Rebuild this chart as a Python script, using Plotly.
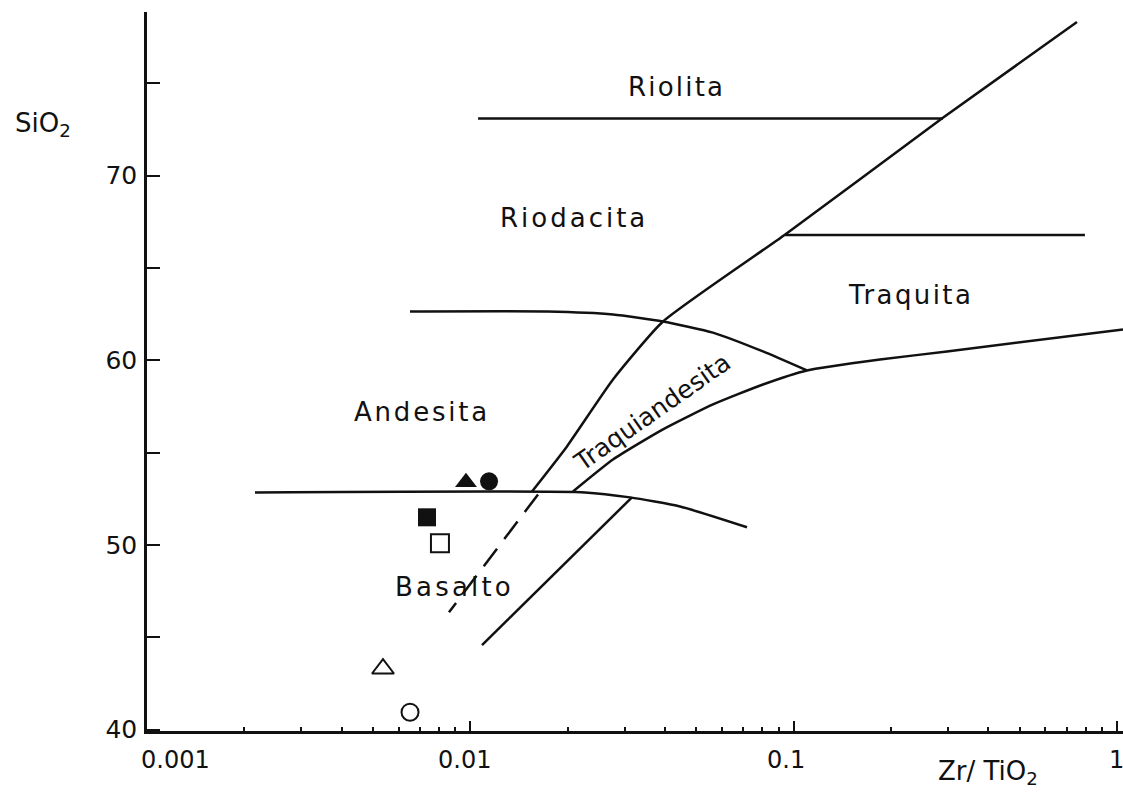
import math
import plotly.graph_objects as go

# ---------------- data ----------------
# boundary lines of the Zr/TiO2 - SiO2 classification diagram
diag_x = [0.01552, 0.01991, 0.02763, 0.03945, 0.094, 0.2897, 0.7527]
diag_y = [52.90, 55.34, 58.96, 62.10, 66.80, 73.13, 78.32]

riolita_x = [0.01057, 0.2897]
riolita_y = [73.1, 73.1]

traquita_top_x = [0.094, 0.7966]
traquita_top_y = [66.78, 66.78]

andesita_top_x = [0.00651, 0.01727, 0.02763, 0.03945, 0.05631, 0.0804, 0.110]
andesita_top_y = [62.64, 62.64, 62.48, 62.10, 61.50, 60.48, 59.45]

traqand_low_x = [0.02078, 0.02763, 0.03945, 0.05631, 0.0804, 0.110, 0.185, 0.2981, 1.045]
traqand_low_y = [52.90, 54.63, 56.26, 57.61, 58.69, 59.45, 60.04, 60.48, 61.67]

basalto_top_x = [0.002158, 0.02263, 0.03119, 0.04453, 0.07177]
basalto_top_y = [52.85, 52.85, 52.58, 52.09, 50.96]

dashed_x = [0.01620, 0.008592]
dashed_y = [52.74, 46.36]

lower_x = [0.03163, 0.01087]
lower_y = [52.58, 44.58]

# samples
filled_symbols = ["triangle-up", "circle", "square"]
filled_x = [0.009698, 0.01143, 0.007347]
filled_y = [53.4, 53.45, 51.50]

open_symbols = ["square-open", "triangle-up-open", "circle-open"]
open_x = [0.008057, 0.00537, 0.00651]
open_y = [50.09, 43.3, 40.95]

# field labels
field_names = ["Riolita", "Riodacita", "Traquita", "Andesita", "Basalto", "Traquiandesita"]
field_x = [0.04329, 0.02093, 0.2307, 0.00709, 0.008968, 0.03648]
field_y = [74.81, 67.72, 63.56, 57.18, 47.71, 57.18]
field_angle = [0, 0, 0, 0, 0, -35]
field_spacing = [2.2, 3.0, 2.4, 2.8, 3.2, 0]

# axis ticks
x_tick_vals = [0.001, 0.01, 0.1, 1]
x_tick_text = ["0.001", "0.01", "0.1", "1"]
x_label_shift = [28, -6, -8, 0]
x_minor_vals = [m * d for d in (0.001, 0.01, 0.1) for m in range(2, 10)]
y_tick_vals = [40, 50, 60, 70]
y_tick_text = ["40", "50", "60", "70"]

FONT = "DejaVu Sans"
INK = "#111111"

fig = go.Figure()

line_sets = [
    (diag_x, diag_y, "solid", "spline"),
    (riolita_x, riolita_y, "solid", "linear"),
    (traquita_top_x, traquita_top_y, "solid", "linear"),
    (andesita_top_x, andesita_top_y, "solid", "spline"),
    (traqand_low_x, traqand_low_y, "solid", "spline"),
    (basalto_top_x, basalto_top_y, "solid", "spline"),
    (dashed_x, dashed_y, "22px,12px", "linear"),
    (lower_x, lower_y, "solid", "linear"),
]
for xs, ys, dash, shape in line_sets:
    fig.add_trace(go.Scatter(
        x=xs, y=ys, mode="lines",
        line=dict(color=INK, width=2.5, dash=dash, shape=shape, smoothing=0.5),
        hoverinfo="skip", showlegend=False, cliponaxis=False))

fig.add_trace(go.Scatter(
    x=filled_x, y=filled_y, mode="markers", showlegend=False,
    marker=dict(symbol=filled_symbols, size=[19, 18, 18], color=INK, opacity=1,
                line=dict(width=0))))
fig.add_trace(go.Scatter(
    x=open_x, y=open_y, mode="markers", showlegend=False,
    marker=dict(symbol=open_symbols, size=[18, 19, 17], color=INK, opacity=1,
                line=dict(width=2, color=INK))))

annotations = []
for name, x, y, ang, sp in zip(field_names, field_x, field_y, field_angle, field_spacing):
    txt = f'<span style="letter-spacing:{sp}px">{name}</span>' if sp else name
    annotations.append(dict(x=math.log10(x), y=y, xref="x", yref="y", text=txt, showarrow=False,
                            textangle=ang, font=dict(family=FONT, size=26 if sp else 25, color=INK),
                            xanchor="center", yanchor="middle"))
for v, t, s in zip(x_tick_vals, x_tick_text, x_label_shift):
    annotations.append(dict(x=math.log10(v), y=0, xref="x", yref="paper", text=t, showarrow=False,
                            xshift=s, yshift=-29, font=dict(family=FONT, size=24, color=INK),
                            xanchor="center", yanchor="middle"))
annotations.append(dict(x=-0.137, y=0.843, xref="paper", yref="paper", text="SiO<sub>2</sub>",
                        showarrow=False, xanchor="left", yanchor="middle",
                        font=dict(family=FONT, size=26, color=INK)))
annotations.append(dict(x=0.808, y=-0.058, xref="paper", yref="paper", text="Zr/ TiO<sub>2</sub>",
                        showarrow=False, xanchor="left", yanchor="middle",
                        font=dict(family=FONT, size=26, color=INK)))

fig.update_layout(
    width=1123, height=799,
    margin=dict(l=147, r=0, t=12, b=68),
    paper_bgcolor="white", plot_bgcolor="white",
    annotations=annotations,
    xaxis=dict(type="log", range=[-3, 0.019], showgrid=False, zeroline=False,
               showline=True, linecolor=INK, linewidth=2.5,
               tickmode="array", tickvals=x_tick_vals, showticklabels=False,
               ticks="inside", ticklen=10, tickwidth=2, tickcolor=INK,
               minor=dict(tickmode="array", tickvals=x_minor_vals, ticks="inside",
                          ticklen=4, tickwidth=1.5, tickcolor=INK, showgrid=False)),
    yaxis=dict(range=[39.93, 78.86], showgrid=False, zeroline=False,
               showline=True, linecolor=INK, linewidth=2.5,
               tickmode="array", tickvals=y_tick_vals, ticktext=y_tick_text,
               ticks="inside", ticklen=13, tickwidth=2, tickcolor=INK,
               ticklabelstandoff=2,
               tickfont=dict(family=FONT, size=25, color=INK),
               minor=dict(dtick=5, tick0=40, ticks="inside", ticklen=13, tickwidth=2,
                          tickcolor=INK, showgrid=False)),
)

fig.write_html("out.html")
